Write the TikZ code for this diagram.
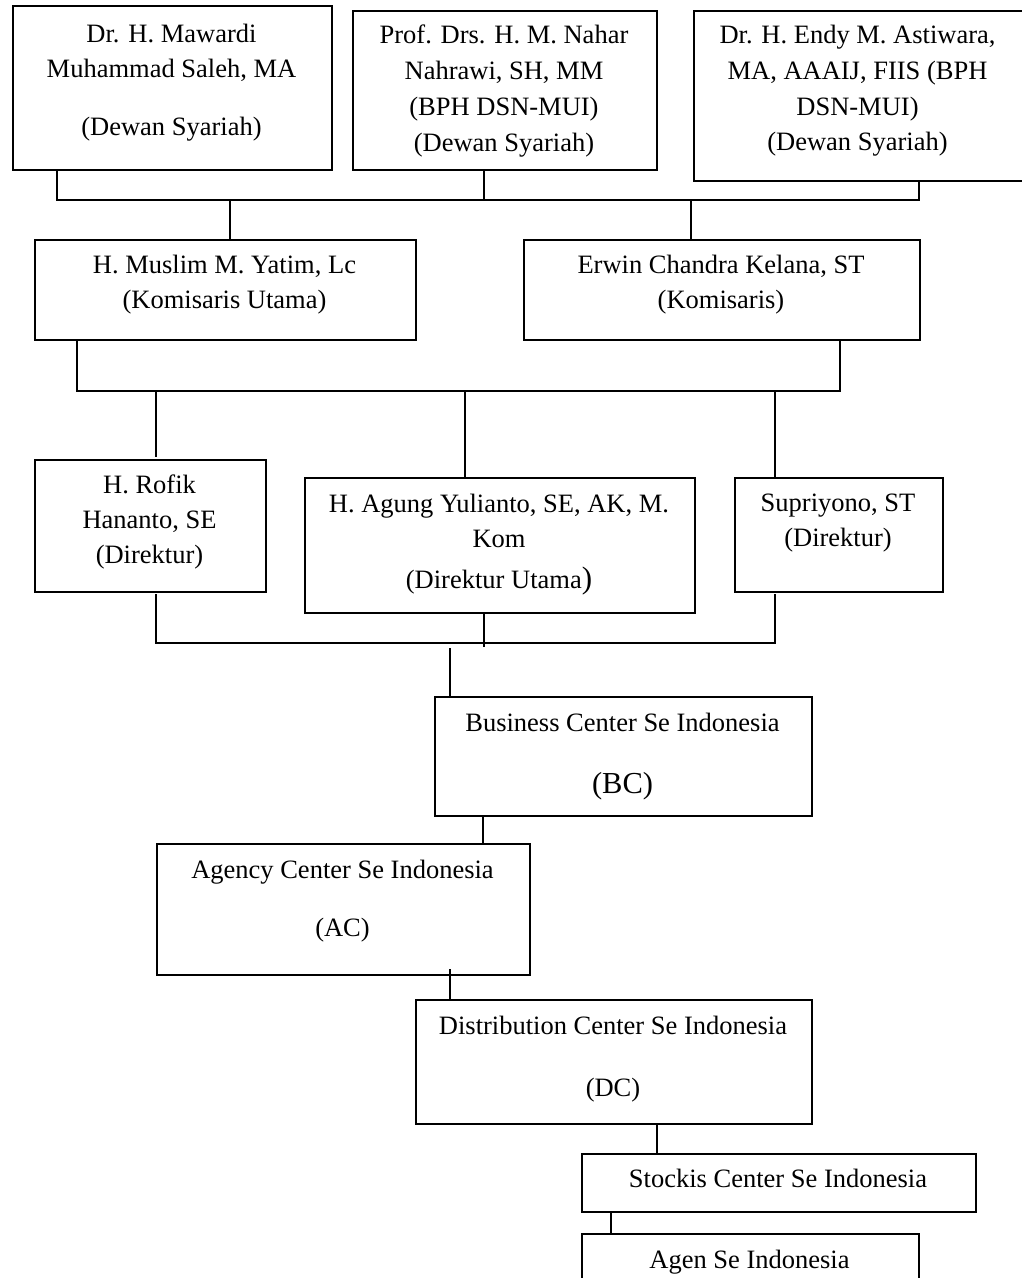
\documentclass[tikz,border=0pt]{standalone}
\usepackage{fontspec}
\setmainfont{Liberation Serif}
\begin{document}
\begin{tikzpicture}[x=1pt,y=-1pt,
  orgbox/.style={draw=black, line width=1.8pt, inner sep=0pt, anchor=north west},
  txt/.style={inner sep=0pt, anchor=base, font=\fontsize{26.5}{32}\selectfont},
  bigtxt/.style={inner sep=0pt, anchor=base, font=\fontsize{30.5}{36}\selectfont},
  link/.style={draw=black, line width=1.8pt}]
\useasboundingbox[fill=white] (0,0) rectangle (1021,1278);

% boxes
\node[orgbox, minimum width=319pt, minimum height=164pt] (b1) at (12,5) {};
\node[orgbox, minimum width=304pt, minimum height=159pt] (b2) at (352,10) {};
\node[orgbox, minimum width=329pt, minimum height=170pt] (b3) at (693,10) {};
\node[orgbox, minimum width=381pt, minimum height=100pt] (b4) at (34,239) {};
\node[orgbox, minimum width=396pt, minimum height=100pt] (b5) at (523,239) {};
\node[orgbox, minimum width=231pt, minimum height=132pt] (b6) at (34,459) {};
\node[orgbox, minimum width=390pt, minimum height=135pt] (b7) at (304,477) {};
\node[orgbox, minimum width=208pt, minimum height=114pt] (b8) at (734,477) {};
\node[orgbox, minimum width=377pt, minimum height=119pt] (bc) at (434,696) {};
\node[orgbox, minimum width=373pt, minimum height=131pt] (ac) at (156,843) {};
\node[orgbox, minimum width=396pt, minimum height=124pt] (dc) at (415,999) {};
\node[orgbox, minimum width=394pt, minimum height=58pt] (sc) at (581,1153) {};
\node[orgbox, minimum width=337pt, minimum height=57pt] (ag) at (581,1233) {};

% texts
\node[txt] (t1a) at (171.5,42) {Dr. H. Mawardi};
\node[txt] (t1b) at (171.5,77) {Muhammad Saleh, MA};
\node[txt] (t1c) at (171.5,135) {(Dewan Syariah)};

\node[txt] (t2a) at (504,43) {Prof. Drs. H. M. Nahar};
\node[txt] (t2b) at (504,79) {Nahrawi, SH, MM};
\node[txt] (t2c) at (504,115) {(BPH DSN-MUI)};
\node[txt] (t2d) at (504,151) {(Dewan Syariah)};

\node[txt] (t3a) at (857.5,43) {Dr. H. Endy M. Astiwara,};
\node[txt] (t3b) at (857.5,79) {MA, AAAIJ, FIIS (BPH};
\node[txt] (t3c) at (857.5,115) {DSN-MUI)};
\node[txt] (t3d) at (857.5,150) {(Dewan Syariah)};

\node[txt] (t4a) at (224.5,273) {H. Muslim M. Yatim, Lc};
\node[txt] (t4b) at (224.5,308) {(Komisaris Utama)};

\node[txt] (t5a) at (721,273) {Erwin Chandra Kelana, ST};
\node[txt] (t5b) at (721,308) {(Komisaris)};

\node[txt] (t6a) at (149.5,493) {H. Rofik};
\node[txt] (t6b) at (149.5,528) {Hananto, SE};
\node[txt] (t6c) at (149.5,563) {(Direktur)};

\node[txt] (t7a) at (499,512) {H. Agung Yulianto, SE, AK, M.};
\node[txt] (t7b) at (499,547) {Kom};
\node[txt] (t7c) at (499,588) {(Direktur Utama{\fontsize{31}{36}\selectfont)}};

\node[txt] (t8a) at (838,511) {Supriyono, ST};
\node[txt] (t8b) at (838,546) {(Direktur)};

\node[txt] (t9a) at (622.5,731) {Business Center Se Indonesia};
\node[bigtxt] (t9b) at (622.5,793) {(BC)};

\node[txt] (t10a) at (342.5,878) {Agency Center Se Indonesia};
\node[txt] (t10b) at (342.5,936) {(AC)};

\node[txt] (t11a) at (613,1034) {Distribution Center Se Indonesia};
\node[txt] (t11b) at (613,1096) {(DC)};

\node[txt] (t12a) at (778,1187) {Stockis Center Se Indonesia};
\node[txt] (t13a) at (749.5,1268) {Agen Se Indonesia};

% junction coordinates
\coordinate (j1l) at (57,200);
\coordinate (j1m) at (484,200);
\coordinate (j1r) at (919,200);
\coordinate (j1a) at (230,200);
\coordinate (j1b) at (691,200);

\coordinate (j2l) at (77,391);
\coordinate (j2r) at (840,391);
\coordinate (j2a) at (156,391);
\coordinate (j2b) at (465,391);
\coordinate (j2c) at (775,391);
\coordinate (e6t) at (156,457);

\coordinate (e6b) at (156,594);
\coordinate (e8b) at (775,594);
\coordinate (j3l) at (156,643);
\coordinate (j3r) at (775,643);
\coordinate (e7b) at (484,647);
\coordinate (sBC) at (450,648);

\coordinate (xBA) at (483,815);
\coordinate (sAD) at (450,969);
\coordinate (xDS) at (657,1123);
\coordinate (xSA) at (611,1211);

% connectors: level 1
\draw[link] (b1.south -| j1l) -- (j1l) -- (j1r) -- (b3.south -| j1r);
\draw[link] (b2.south -| j1m) -- (j1m);
\draw[link] (j1a) -- (b4.north -| j1a);
\draw[link] (j1b) -- (b5.north -| j1b);

% level 2
\draw[link] (b4.south -| j2l) -- (j2l) -- (j2r) -- (b5.south -| j2r);
\draw[link] (j2a) -- (e6t);
\draw[link] (j2b) -- (b7.north -| j2b);
\draw[link] (j2c) -- (b8.north -| j2c);

% level 3
\draw[link] (e6b) -- (j3l) -- (j3r) -- (e8b);
\draw[link] (b7.south -| e7b) -- (e7b);
\draw[link] (sBC) -- (bc.north -| sBC);

% chain
\draw[link] (xBA) -- (ac.north -| xBA);
\draw[link] (sAD) -- (dc.north -| sAD);
\draw[link] (xDS) -- (sc.north -| xDS);
\draw[link] (xSA) -- (ag.north -| xSA);
\end{tikzpicture}
\end{document}
